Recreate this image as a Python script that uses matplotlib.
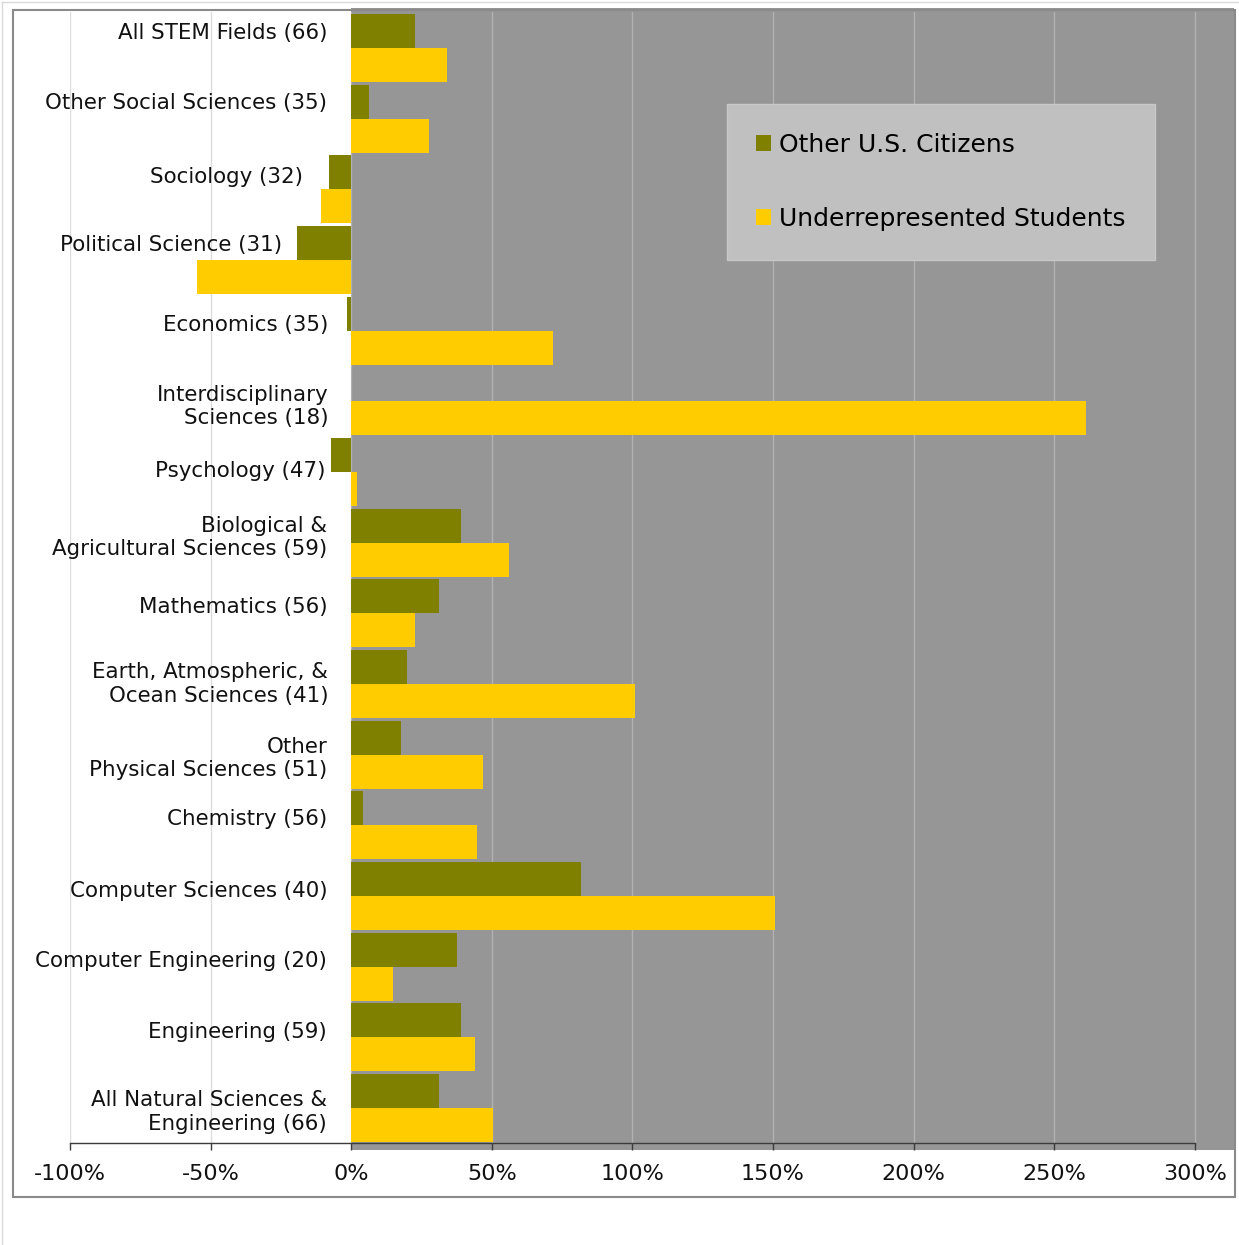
import matplotlib
matplotlib.use('Agg')
import matplotlib.pyplot as plt
import numpy as np
from matplotlib.patches import Patch, Rectangle
from matplotlib.lines import Line2D
from matplotlib.transforms import offset_copy, blended_transform_factory
from matplotlib.ticker import FuncFormatter

# percent change (top to bottom)
fields = [
    'All STEM Fields (66)',
    'Other Social Sciences (35)',
    'Sociology (32)',
    'Political Science (31)',
    'Economics (35)',
    'Interdisciplinary\nSciences (18)',
    'Psychology (47)',
    'Biological &\nAgricultural Sciences (59)',
    'Mathematics (56)',
    'Earth, Atmospheric, &\nOcean Sciences (41)',
    'Other\nPhysical Sciences (51)',
    'Chemistry (56)',
    'Computer Sciences (40)',
    'Computer Engineering (20)',
    'Engineering (59)',
    'All Natural Sciences &\nEngineering (66)',
]
other_citizens = [22.8, 6.4, -7.8, -19.2, -1.5, 0.0, -7.1, 39.1, 31.3, 19.8,
                  17.7, 4.1, 81.7, 37.6, 39.0, 31.2]
underrepresented = [34.0, 27.6, -10.7, -54.8, 71.7, 261.3, 2.0, 56.1, 22.8, 100.9,
                    46.8, 44.7, 150.6, 14.8, 44.1, 50.4]
x_ticks = [-100, -50, 0, 50, 100, 150, 200, 250, 300]

# label nudges in pixels (dx, dy) so names sit where the original puts them
label_dx = [-24, -24, -48, -69, -23, -23, -26, -24, -24, -23, -24, -24, -24, -24, -24, -24]
label_dy = [15, 15.5, 12.5, 15, 5.5, -5.5, 1, 5.5, 6, 0, -4, 6, 5, 5.5, 5, -4]

OLIVE = '#808000'
GOLD = '#FFCC00'
PLOT_GRAY = '#969696'

W, H = 1239, 1245
fig = plt.figure(figsize=(W / 100, H / 100), dpi=100)
ax = fig.add_axes([70 / W, 1 - 1143 / H, (1234 - 70) / W, (1143 - 12) / H])
ax.patch.set_visible(False)

x_right = (1234 - 351) / 2.8125
ax.set_xlim(-100, x_right)
ax.set_ylim(15.495, -0.509)

# gray plot area only right of the 0% line
blend = blended_transform_factory(ax.transData, ax.transAxes)
ax.add_patch(Rectangle((0, -0.006), x_right, 1.0097, transform=blend,
                       facecolor=PLOT_GRAY, edgecolor='none', zorder=0, clip_on=False))

for t in x_ticks:
    ax.axvline(t, color='#c5c5c5', alpha=0.6, lw=1, zorder=1)

y = np.arange(len(fields))
ax.barh(y - 0.24, other_citizens, height=0.48, color=OLIVE, zorder=2)
ax.barh(y + 0.24, underrepresented, height=0.48, color=GOLD, zorder=2)

for i, name in enumerate(fields):
    tr = offset_copy(ax.transData, fig=fig, x=label_dx[i], y=label_dy[i], units='dots')
    ax.text(0, i, name, transform=tr, ha='right', va='center',
            multialignment='right', fontsize=15.4, color='#111111')

ax.set_xticks(x_ticks)
ax.xaxis.set_major_formatter(FuncFormatter(lambda v, _: f'{v:.0f}%'))
ax.set_yticks([])
for s in ['top', 'right', 'left']:
    ax.spines[s].set_visible(False)
ax.spines['bottom'].set_bounds(-100, 300)
ax.spines['bottom'].set_color('#3c3c3c')
ax.spines['bottom'].set_linewidth(1)
ax.spines['bottom'].set_zorder(3)
ax.tick_params(axis='x', direction='out', length=5, width=1, color='#3c3c3c',
               pad=10, labelsize=16, labelcolor='#111111')

handles = [Patch(facecolor=OLIVE, edgecolor='none', label='Other U.S. Citizens'),
           Patch(facecolor=GOLD, edgecolor='none', label='Underrepresented Students')]
fig.legend(handles=handles, loc='upper left', bbox_to_anchor=(727 / W, 1 - 104 / H),
           bbox_transform=fig.transFigure, fontsize=18, frameon=True, fancybox=False,
           facecolor='#c0c0c0', edgecolor='#c8c8c8', framealpha=1, borderpad=1.16,
           labelspacing=2.0, handlelength=0.6, handleheight=0.6, handletextpad=0.32,
           borderaxespad=0)

# chart frame plus the faint outer edge
fig.add_artist(Rectangle((13 / W, 1 - 1197 / H), (1235 - 13) / W, (1197 - 10) / H,
                         transform=fig.transFigure, fill=False, edgecolor='#8a8a8a', lw=1.5))
fig.add_artist(Line2D([2 / W, 2 / W], [0, 1 - 2 / H], transform=fig.transFigure,
                      color='#dadada', lw=1))
fig.add_artist(Line2D([2 / W, 1], [1 - 2 / H, 1 - 2 / H], transform=fig.transFigure,
                      color='#dadada', lw=1))

fig.savefig('out.png', dpi=100)
